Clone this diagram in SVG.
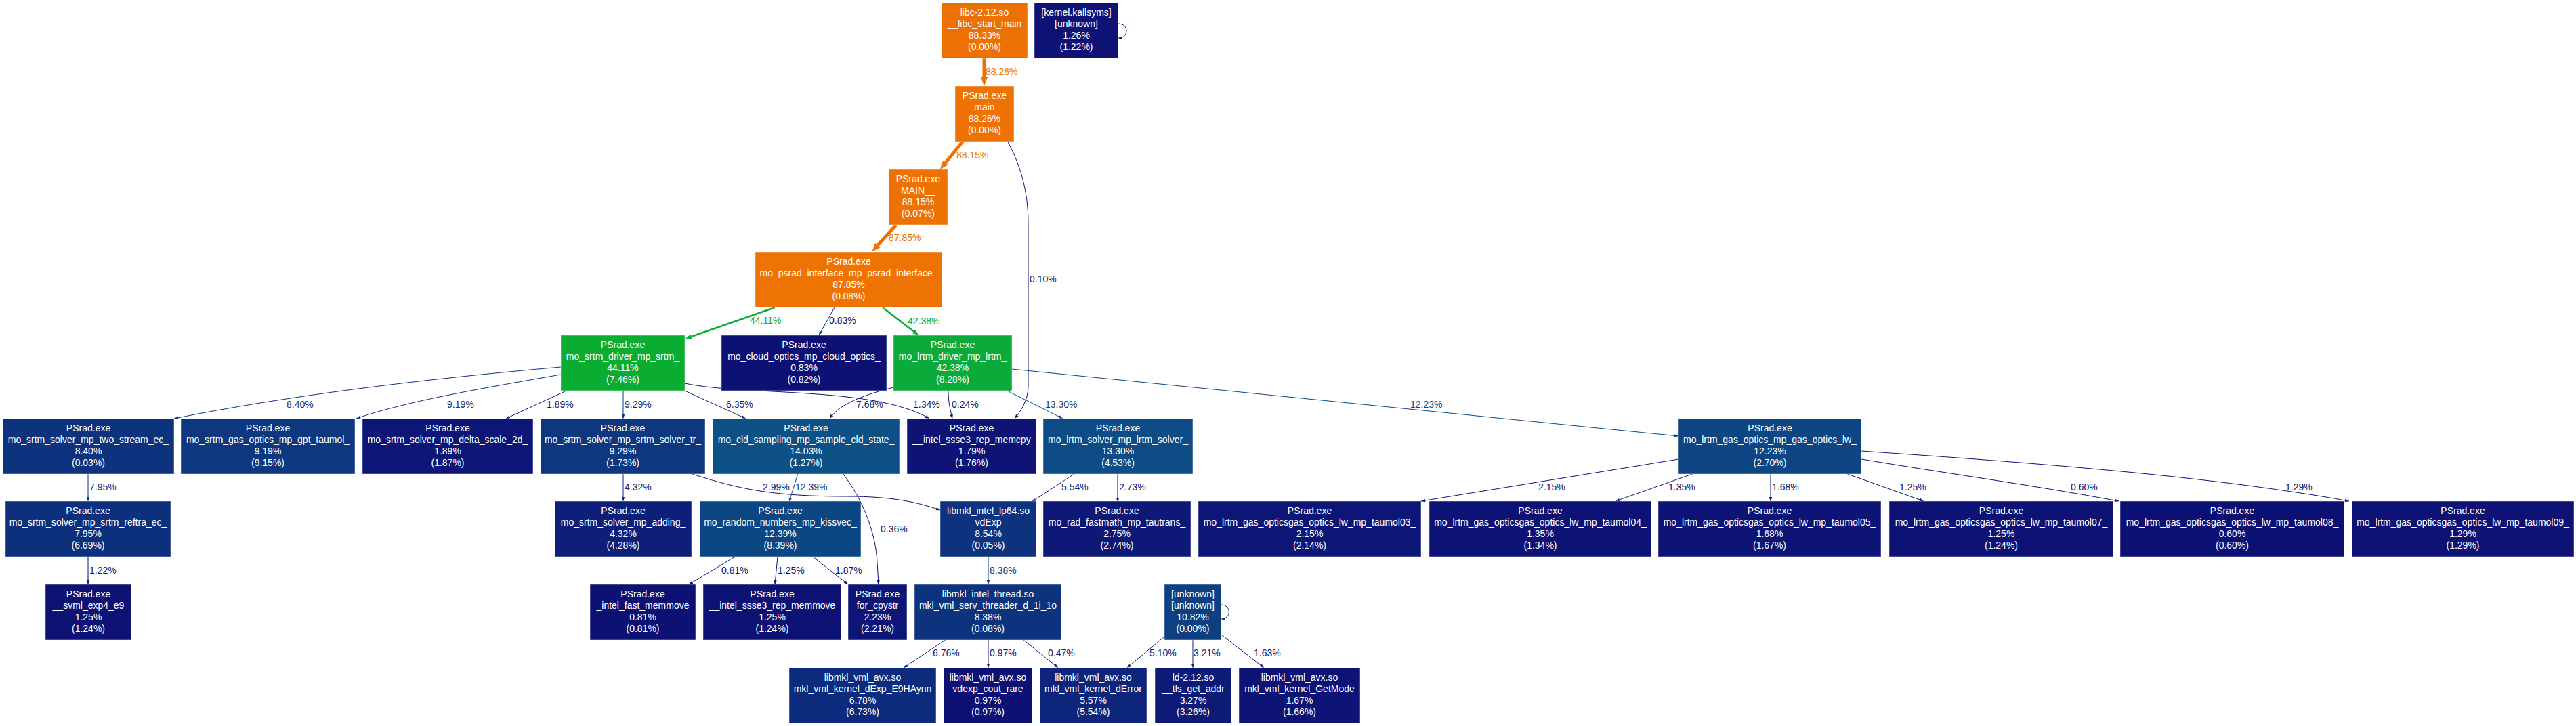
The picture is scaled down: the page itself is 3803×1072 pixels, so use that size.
<svg xmlns="http://www.w3.org/2000/svg" width="3803" height="1072" viewBox="0 0 3803 1072">
<style>
.n rect{stroke:#fff;stroke-opacity:.45;stroke-width:1}
.n text{font-family:"Liberation Sans",Arial,sans-serif;font-size:14px;fill:#fff;text-anchor:middle}
.e path{fill:none}
.e text{font-family:"Liberation Sans",Arial,sans-serif;font-size:14px}
.or{stroke:#ed7103;stroke-width:5;marker-end:url(#m-or)}
.gr{stroke:#0aad35;stroke-width:2.5;marker-end:url(#m-gr)}
.b3{stroke:#0d4683;stroke-width:1;marker-end:url(#m-b3)}
.b2{stroke:#0d347e;stroke-width:1;marker-end:url(#m-b2)}
.b1{stroke:#0d247a;stroke-width:1;marker-end:url(#m-b1)}
.b0{stroke:#0d1475;stroke-width:1;marker-end:url(#m-b0)}
.tor{fill:#ed7103}.tgr{fill:#0aad35}.tb3{fill:#0d4683}.tb2{fill:#0d347e}.tb1{fill:#0d247a}.tb0{fill:#0d1475}
</style>
<defs>
<marker id="m-or" markerUnits="userSpaceOnUse" markerWidth="14" markerHeight="11" refX="0" refY="5" orient="auto" overflow="visible"><path d="M0,0 L13,5 L0,10 z" fill="#ed7103"/></marker>
<marker id="m-gr" markerUnits="userSpaceOnUse" markerWidth="10" markerHeight="8" refX="0" refY="3.5" orient="auto" overflow="visible"><path d="M0,0 L9,3.5 L0,7 z" fill="#0aad35"/></marker>
<marker id="m-b3" markerUnits="userSpaceOnUse" markerWidth="7" markerHeight="5" refX="6" refY="2.25" orient="auto" overflow="visible"><path d="M0,0 L6,2.25 L0,4.5 z" fill="#0d4683"/></marker>
<marker id="m-b2" markerUnits="userSpaceOnUse" markerWidth="7" markerHeight="5" refX="6" refY="2.25" orient="auto" overflow="visible"><path d="M0,0 L6,2.25 L0,4.5 z" fill="#0d347e"/></marker>
<marker id="m-b1" markerUnits="userSpaceOnUse" markerWidth="7" markerHeight="5" refX="6" refY="2.25" orient="auto" overflow="visible"><path d="M0,0 L6,2.25 L0,4.5 z" fill="#0d247a"/></marker>
<marker id="m-b0" markerUnits="userSpaceOnUse" markerWidth="7" markerHeight="5" refX="6" refY="2.25" orient="auto" overflow="visible"><path d="M0,0 L6,2.25 L0,4.5 z" fill="#0d1475"/></marker>
</defs>
<rect width="3803" height="1072" fill="#fff"/>
<g id="edges" class="e">
<path class="or" d="M1453,86 L1453,114"/><text class="tor" x="1455" y="111">88.26%</text>
<path class="b0" d="M1651,35 C1667,35 1667,56 1651,56"/>
<path class="or" d="M1422,208 L1396,240"/><text class="tor" x="1412" y="234">88.15%</text>
<path class="or" d="M1323,332 L1296,362"/><text class="tor" x="1312" y="356">87.85%</text>
<path class="gr" d="M1144,454 L1020.5,497"/><text class="tgr" x="1107" y="478">44.11%</text>
<path class="b0" d="M1232,454 L1209,495"/><text class="tb0" x="1224" y="478">0.83%</text>
<path class="gr" d="M1303,454 L1349,489.5"/><text class="tgr" x="1340" y="479">42.38%</text>
<path class="b0" d="M1487,208 C1505,240 1518,280 1518,330 L1518,570 C1518,590 1508,606 1498,618"/><text class="tb0" x="1520" y="417">0.10%</text>
<path class="b2" d="M828,542 C620,560 420,585 257,618"/><text class="tb2" x="423" y="602">8.40%</text>
<path class="b2" d="M828,553 C720,572 600,592 526,618"/><text class="tb2" x="660" y="602">9.19%</text>
<path class="b0" d="M836,577 L747,618"/><text class="tb0" x="807" y="602">1.89%</text>
<path class="b2" d="M920,577 L920,618"/><text class="tb2" x="922" y="602">9.29%</text>
<path class="b1" d="M1011,577 L1101,618"/><text class="tb1" x="1072" y="602">6.35%</text>
<path class="b0" d="M1011,566 C1100,585 1290,570 1372,618"/><text class="tb0" x="1348" y="602">1.34%</text>
<path class="b1" d="M1319,572 C1280,582 1240,595 1225,618"/><text class="tb1" x="1264" y="602">7.68%</text>
<path class="b0" d="M1400,577 C1400,595 1403,605 1406,618"/><text class="tb0" x="1405" y="602">0.24%</text>
<path class="b3" d="M1487,577 L1569,618"/><text class="tb3" x="1543" y="602">13.30%</text>
<path class="b3" d="M1494,545 L2478,644"/><text class="tb3" x="2082" y="602">12.23%</text>
<path class="b2" d="M130,699 L130,740"/><text class="tb2" x="132" y="724">7.95%</text>
<path class="b0" d="M130,822 L130,863"/><text class="tb0" x="132" y="847">1.22%</text>
<path class="b1" d="M920,699 L920,740"/><text class="tb1" x="922" y="724">4.32%</text>
<path class="b0" d="M1019,699 C1090,722 1140,733 1250,733 C1320,733 1355,742 1388,753"/><text class="tb0" x="1126" y="724">2.99%</text>
<path class="b3" d="M1178,699 L1165,741"/><text class="tb3" x="1174" y="724">12.39%</text>
<path class="b0" d="M1244,699 C1276,740 1293,790 1295,830 L1297,863"/><text class="tb0" x="1300" y="786">0.36%</text>
<path class="b1" d="M1587,699 L1523,741"/><text class="tb1" x="1567" y="724">5.54%</text>
<path class="b0" d="M1650,699 L1650,741"/><text class="tb0" x="1652" y="724">2.73%</text>
<path class="b0" d="M2478,678 L2098,740"/><text class="tb0" x="2271" y="724">2.15%</text>
<path class="b0" d="M2501,699 L2385,740"/><text class="tb0" x="2463" y="724">1.35%</text>
<path class="b0" d="M2614,699 L2614,740"/><text class="tb0" x="2616" y="724">1.68%</text>
<path class="b0" d="M2725,699 L2840,740"/><text class="tb0" x="2804" y="724">1.25%</text>
<path class="b0" d="M2748,678 C2880,700 3000,716 3128,740"/><text class="tb0" x="3057" y="724">0.60%</text>
<path class="b0" d="M2748,666 C2950,680 3250,700 3468,740"/><text class="tb0" x="3374" y="724">1.29%</text>
<path class="b0" d="M1085,822 L1017,863"/><text class="tb0" x="1065" y="847">0.81%</text>
<path class="b0" d="M1148,822 L1144,863"/><text class="tb0" x="1148" y="847">1.25%</text>
<path class="b0" d="M1200,822 L1252,863"/><text class="tb0" x="1233" y="847">1.87%</text>
<path class="b2" d="M1459,822 L1459,863"/><text class="tb2" x="1461" y="847">8.38%</text>
<path class="b1" d="M1397,944 L1334,986"/><text class="tb1" x="1377" y="969">6.76%</text>
<path class="b0" d="M1459,944 L1459,986"/><text class="tb0" x="1461" y="969">0.97%</text>
<path class="b0" d="M1510,944 L1562,986"/><text class="tb0" x="1547" y="969">0.47%</text>
<path class="b2" d="M1803,893 C1818,893 1818,914 1803,914"/>
<path class="b1" d="M1719,940 L1664,986"/><text class="tb1" x="1697" y="969">5.10%</text>
<path class="b1" d="M1761,944 L1761,986"/><text class="tb1" x="1762" y="969">3.21%</text>
<path class="b0" d="M1803,937 L1866,986"/><text class="tb0" x="1851" y="969">1.63%</text>
</g>
<g id="libc" class="n"><rect x="1390" y="4" width="127" height="82" fill="#ed7003"/><text x="1453.5" y="23">libc-2.12.so</text><text x="1453.5" y="40">__libc_start_main</text><text x="1453.5" y="57">88.33%</text><text x="1453.5" y="74">(0.00%)</text></g>
<g id="kernel" class="n"><rect x="1527" y="4" width="124" height="82" fill="#0d1274"/><text x="1589" y="23">[kernel.kallsyms]</text><text x="1589" y="40">[unknown]</text><text x="1589" y="57">1.26%</text><text x="1589" y="74">(1.22%)</text></g>
<g id="main" class="n"><rect x="1410" y="127" width="87" height="82" fill="#ed7103"/><text x="1453.5" y="146">PSrad.exe</text><text x="1453.5" y="163">main</text><text x="1453.5" y="180">88.26%</text><text x="1453.5" y="197">(0.00%)</text></g>
<g id="MAIN" class="n"><rect x="1312" y="250" width="87" height="82" fill="#ed7203"/><text x="1355.5" y="269">PSrad.exe</text><text x="1355.5" y="286">MAIN__</text><text x="1355.5" y="303">88.15%</text><text x="1355.5" y="320">(0.07%)</text></g>
<g id="psrad_interface" class="n"><rect x="1115" y="372" width="276" height="82" fill="#ed7403"/><text x="1253" y="391">PSrad.exe</text><text x="1253" y="408">mo_psrad_interface_mp_psrad_interface_</text><text x="1253" y="425">87.85%</text><text x="1253" y="442">(0.08%)</text></g>
<g id="srtm_driver" class="n"><rect x="828" y="495" width="183" height="82" fill="#0aad31"/><text x="919.5" y="514">PSrad.exe</text><text x="919.5" y="531">mo_srtm_driver_mp_srtm_</text><text x="919.5" y="548">44.11%</text><text x="919.5" y="565">(7.46%)</text></g>
<g id="cloud_optics" class="n"><rect x="1065" y="495" width="244" height="82" fill="#0d1173"/><text x="1187" y="514">PSrad.exe</text><text x="1187" y="531">mo_cloud_optics_mp_cloud_optics_</text><text x="1187" y="548">0.83%</text><text x="1187" y="565">(0.82%)</text></g>
<g id="lrtm_driver" class="n"><rect x="1319" y="495" width="175" height="82" fill="#0aab3b"/><text x="1406.5" y="514">PSrad.exe</text><text x="1406.5" y="531">mo_lrtm_driver_mp_lrtm_</text><text x="1406.5" y="548">42.38%</text><text x="1406.5" y="565">(8.28%)</text></g>
<g id="two_stream" class="n"><rect x="4" y="618" width="253" height="82" fill="#0d337e"/><text x="130.5" y="637">PSrad.exe</text><text x="130.5" y="654">mo_srtm_solver_mp_two_stream_ec_</text><text x="130.5" y="671">8.40%</text><text x="130.5" y="688">(0.03%)</text></g>
<g id="gpt_taumol" class="n"><rect x="267" y="618" width="257" height="82" fill="#0d377f"/><text x="395.5" y="637">PSrad.exe</text><text x="395.5" y="654">mo_srtm_gas_optics_mp_gpt_taumol_</text><text x="395.5" y="671">9.19%</text><text x="395.5" y="688">(9.15%)</text></g>
<g id="delta_scale" class="n"><rect x="535" y="618" width="252" height="82" fill="#0d1576"/><text x="661" y="637">PSrad.exe</text><text x="661" y="654">mo_srtm_solver_mp_delta_scale_2d_</text><text x="661" y="671">1.89%</text><text x="661" y="688">(1.87%)</text></g>
<g id="srtm_solver_tr" class="n"><rect x="798" y="618" width="243" height="82" fill="#0d377f"/><text x="919.5" y="637">PSrad.exe</text><text x="919.5" y="654">mo_srtm_solver_mp_srtm_solver_tr_</text><text x="919.5" y="671">9.29%</text><text x="919.5" y="688">(1.73%)</text></g>
<g id="cld_sampling" class="n"><rect x="1052" y="618" width="276" height="82" fill="#0c5085"/><text x="1190" y="637">PSrad.exe</text><text x="1190" y="654">mo_cld_sampling_mp_sample_cld_state_</text><text x="1190" y="671">14.03%</text><text x="1190" y="688">(1.27%)</text></g>
<g id="memcpy" class="n"><rect x="1339" y="618" width="191" height="82" fill="#0d1475"/><text x="1434.5" y="637">PSrad.exe</text><text x="1434.5" y="654">__intel_ssse3_rep_memcpy</text><text x="1434.5" y="671">1.79%</text><text x="1434.5" y="688">(1.76%)</text></g>
<g id="lrtm_solver" class="n"><rect x="1540" y="618" width="221" height="82" fill="#0d4c84"/><text x="1650.5" y="637">PSrad.exe</text><text x="1650.5" y="654">mo_lrtm_solver_mp_lrtm_solver_</text><text x="1650.5" y="671">13.30%</text><text x="1650.5" y="688">(4.53%)</text></g>
<g id="gas_optics_lw" class="n"><rect x="2478" y="618" width="270" height="82" fill="#0d4683"/><text x="2613" y="637">PSrad.exe</text><text x="2613" y="654">mo_lrtm_gas_optics_mp_gas_optics_lw_</text><text x="2613" y="671">12.23%</text><text x="2613" y="688">(2.70%)</text></g>
<g id="reftra" class="n"><rect x="8" y="740" width="244" height="82" fill="#0d307d"/><text x="130" y="759">PSrad.exe</text><text x="130" y="776">mo_srtm_solver_mp_srtm_reftra_ec_</text><text x="130" y="793">7.95%</text><text x="130" y="810">(6.69%)</text></g>
<g id="adding" class="n"><rect x="819" y="740" width="202" height="82" fill="#0d1f78"/><text x="920" y="759">PSrad.exe</text><text x="920" y="776">mo_srtm_solver_mp_adding_</text><text x="920" y="793">4.32%</text><text x="920" y="810">(4.28%)</text></g>
<g id="kissvec" class="n"><rect x="1033" y="740" width="238" height="82" fill="#0d4783"/><text x="1152" y="759">PSrad.exe</text><text x="1152" y="776">mo_random_numbers_mp_kissvec_</text><text x="1152" y="793">12.39%</text><text x="1152" y="810">(8.39%)</text></g>
<g id="vdExp" class="n"><rect x="1388" y="740" width="142" height="82" fill="#0d337e"/><text x="1459" y="759">libmkl_intel_lp64.so</text><text x="1459" y="776">vdExp</text><text x="1459" y="793">8.54%</text><text x="1459" y="810">(0.05%)</text></g>
<g id="tautrans" class="n"><rect x="1540" y="740" width="218" height="82" fill="#0d1877"/><text x="1649" y="759">PSrad.exe</text><text x="1649" y="776">mo_rad_fastmath_mp_tautrans_</text><text x="1649" y="793">2.75%</text><text x="1649" y="810">(2.74%)</text></g>
<g id="taumol03" class="n"><rect x="1769" y="740" width="329" height="82" fill="#0d1676"/><text x="1933.5" y="759">PSrad.exe</text><text x="1933.5" y="776">mo_lrtm_gas_opticsgas_optics_lw_mp_taumol03_</text><text x="1933.5" y="793">2.15%</text><text x="1933.5" y="810">(2.14%)</text></g>
<g id="taumol04" class="n"><rect x="2110" y="740" width="328" height="82" fill="#0d1374"/><text x="2274" y="759">PSrad.exe</text><text x="2274" y="776">mo_lrtm_gas_opticsgas_optics_lw_mp_taumol04_</text><text x="2274" y="793">1.35%</text><text x="2274" y="810">(1.34%)</text></g>
<g id="taumol05" class="n"><rect x="2448" y="740" width="329" height="82" fill="#0d1475"/><text x="2612.5" y="759">PSrad.exe</text><text x="2612.5" y="776">mo_lrtm_gas_opticsgas_optics_lw_mp_taumol05_</text><text x="2612.5" y="793">1.68%</text><text x="2612.5" y="810">(1.67%)</text></g>
<g id="taumol07" class="n"><rect x="2789" y="740" width="331" height="82" fill="#0d1274"/><text x="2954.5" y="759">PSrad.exe</text><text x="2954.5" y="776">mo_lrtm_gas_opticsgas_optics_lw_mp_taumol07_</text><text x="2954.5" y="793">1.25%</text><text x="2954.5" y="810">(1.24%)</text></g>
<g id="taumol08" class="n"><rect x="3130" y="740" width="331" height="82" fill="#0d1073"/><text x="3295.5" y="759">PSrad.exe</text><text x="3295.5" y="776">mo_lrtm_gas_opticsgas_optics_lw_mp_taumol08_</text><text x="3295.5" y="793">0.60%</text><text x="3295.5" y="810">(0.60%)</text></g>
<g id="taumol09" class="n"><rect x="3472" y="740" width="328" height="82" fill="#0d1274"/><text x="3636" y="759">PSrad.exe</text><text x="3636" y="776">mo_lrtm_gas_opticsgas_optics_lw_mp_taumol09_</text><text x="3636" y="793">1.29%</text><text x="3636" y="810">(1.29%)</text></g>
<g id="svml_exp4" class="n"><rect x="67" y="863" width="127" height="82" fill="#0d1274"/><text x="130.5" y="882">PSrad.exe</text><text x="130.5" y="899">__svml_exp4_e9</text><text x="130.5" y="916">1.25%</text><text x="130.5" y="933">(1.24%)</text></g>
<g id="fast_memmove" class="n"><rect x="871" y="863" width="156" height="82" fill="#0d1173"/><text x="949" y="882">PSrad.exe</text><text x="949" y="899">_intel_fast_memmove</text><text x="949" y="916">0.81%</text><text x="949" y="933">(0.81%)</text></g>
<g id="ssse3_memmove" class="n"><rect x="1038" y="863" width="204" height="82" fill="#0d1274"/><text x="1140" y="882">PSrad.exe</text><text x="1140" y="899">__intel_ssse3_rep_memmove</text><text x="1140" y="916">1.25%</text><text x="1140" y="933">(1.24%)</text></g>
<g id="for_cpystr" class="n"><rect x="1252" y="863" width="87" height="82" fill="#0d1676"/><text x="1295.5" y="882">PSrad.exe</text><text x="1295.5" y="899">for_cpystr</text><text x="1295.5" y="916">2.23%</text><text x="1295.5" y="933">(2.21%)</text></g>
<g id="serv_threader" class="n"><rect x="1350" y="863" width="217" height="82" fill="#0d337e"/><text x="1458.5" y="882">libmkl_intel_thread.so</text><text x="1458.5" y="899">mkl_vml_serv_threader_d_1i_1o</text><text x="1458.5" y="916">8.38%</text><text x="1458.5" y="933">(0.08%)</text></g>
<g id="unknown" class="n"><rect x="1719" y="863" width="84" height="82" fill="#0d3f81"/><text x="1761" y="882">[unknown]</text><text x="1761" y="899">[unknown]</text><text x="1761" y="916">10.82%</text><text x="1761" y="933">(0.00%)</text></g>
<g id="dExp_E9HAynn" class="n"><rect x="1165" y="986" width="217" height="82" fill="#0d2b7c"/><text x="1273.5" y="1005">libmkl_vml_avx.so</text><text x="1273.5" y="1022">mkl_vml_kernel_dExp_E9HAynn</text><text x="1273.5" y="1039">6.78%</text><text x="1273.5" y="1056">(6.73%)</text></g>
<g id="vdexp_cout_rare" class="n"><rect x="1393" y="986" width="131" height="82" fill="#0d1174"/><text x="1458.5" y="1005">libmkl_vml_avx.so</text><text x="1458.5" y="1022">vdexp_cout_rare</text><text x="1458.5" y="1039">0.97%</text><text x="1458.5" y="1056">(0.97%)</text></g>
<g id="dError" class="n"><rect x="1535" y="986" width="158" height="82" fill="#0d257a"/><text x="1614" y="1005">libmkl_vml_avx.so</text><text x="1614" y="1022">mkl_vml_kernel_dError</text><text x="1614" y="1039">5.57%</text><text x="1614" y="1056">(5.54%)</text></g>
<g id="tls_get_addr" class="n"><rect x="1705" y="986" width="113" height="82" fill="#0d1b77"/><text x="1761.5" y="1005">ld-2.12.so</text><text x="1761.5" y="1022">__tls_get_addr</text><text x="1761.5" y="1039">3.27%</text><text x="1761.5" y="1056">(3.26%)</text></g>
<g id="GetMode" class="n"><rect x="1829" y="986" width="179" height="82" fill="#0d1475"/><text x="1918.5" y="1005">libmkl_vml_avx.so</text><text x="1918.5" y="1022">mkl_vml_kernel_GetMode</text><text x="1918.5" y="1039">1.67%</text><text x="1918.5" y="1056">(1.66%)</text></g>
</svg>
